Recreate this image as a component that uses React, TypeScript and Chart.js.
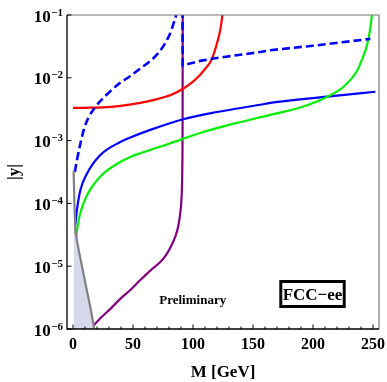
import React, { useEffect, useRef } from 'react';
import { Chart, registerables } from 'chart.js';

Chart.register(...registerables);

const FONT = '"Liberation Serif", "Times New Roman", serif';

// Axis ticks
const X_MAJOR = [0, 50, 100, 150, 200, 250];
const X_LABELS = ['0', '50', '100', '150', '200', '250'];
const X_MINOR = [10, 20, 30, 40, 60, 70, 80, 90, 110, 120, 130, 140, 160, 170, 180, 190, 210, 220, 230, 240];
const Y_TICKS = [1e-6, 1e-5, 1e-4, 1e-3, 1e-2, 1e-1];
const Y_EXP = ['−6', '−5', '−4', '−3', '−2', '−1'];

// Red curve
const RED_M = [0, 10, 25, 38, 56, 66, 82, 92, 100, 106, 110, 113, 115.8, 118, 120, 122, 123.5, 124.5, 125];
const RED_Y = [3.31e-3, 3.33e-3, 3.39e-3, 3.55e-3, 3.98e-3, 4.37e-3, 5.37e-3, 6.76e-3, 8.7e-3, 1.12e-2, 1.38e-2, 1.62e-2, 2.0e-2, 2.63e-2, 3.55e-2, 5.0e-2, 7.1e-2, 0.1, 0.12];

// Blue solid curve
const BLUE_M = [1.9, 3.3, 6.1, 11.7, 22.8, 39.4, 47.8, 64.4, 91.7, 120, 156, 164.4, 211.7, 252];
const BLUE_Y = [4.57e-5, 7.9e-5, 1.62e-4, 3.0e-4, 5.9e-4, 9.5e-4, 1.12e-3, 1.48e-3, 2.19e-3, 2.85e-3, 3.72e-3, 3.98e-3, 5.0e-3, 6.0e-3];

// Blue dashed curve, first branch
const BLUED1_M = [1.5, 3.33, 6.08, 9.42, 12.75, 18.6, 28.6, 38, 47.75, 56.1, 64.4, 71.1, 76.9, 81.1, 84.4, 86.1, 86.6];
const BLUED1_Y = [3.16e-4, 4.91e-4, 8.83e-4, 1.58e-3, 2.29e-3, 3.43e-3, 5.52e-3, 7.96e-3, 1.07e-2, 1.41e-2, 1.85e-2, 2.48e-2, 3.58e-2, 5.16e-2, 8.0e-2, 0.104, 0.12];

// Blue dashed curve, second branch
const BLUED2_M = [91.3, 91.4, 106, 120, 156, 164.4, 200, 247.8];
const BLUED2_Y = [0.12, 1.58e-2, 1.86e-2, 2.07e-2, 2.57e-2, 2.75e-2, 3.24e-2, 4.17e-2];

// Green curve
const GREEN_M = [2.2, 3.8, 6.1, 11.7, 22.8, 39.4, 47.8, 56, 80, 106, 134, 164.4, 190, 212, 225.5, 237, 240, 243, 245, 246.5, 247.8, 248.8, 249.4];
const GREEN_Y = [2.5e-5, 4.27e-5, 7.08e-5, 1.35e-4, 2.69e-4, 4.57e-4, 5.5e-4, 6.3e-4, 8.9e-4, 1.32e-3, 1.86e-3, 2.57e-3, 3.4e-3, 5.0e-3, 7.2e-3, 1.32e-2, 1.78e-2, 2.51e-2, 3.31e-2, 4.47e-2, 6.3e-2, 8.9e-2, 0.115];

// Purple curve
const PURPLE_M = [16.9, 22.75, 31.1, 39.4, 47.75, 56.1, 64.4, 72.75, 76.9, 81, 85.25, 87.75, 89.4, 90.25, 90.8, 91.17, 91.33, 91.42];
const PURPLE_Y = [1.12e-6, 1.48e-6, 2.09e-6, 3.02e-6, 4.17e-6, 6.03e-6, 8.51e-6, 1.17e-5, 1.45e-5, 1.95e-5, 2.95e-5, 4.37e-5, 7.08e-5, 1.05e-4, 1.82e-4, 4.9e-4, 2.14e-3, 0.12];

// Gray curve (with shaded region)
const GRAY_M = [0.5, 1.2, 2.0, 4.7, 7.5, 10.3, 14.4, 17.2, 17.9];
const GRAY_Y = [3.24e-4, 1e-4, 3.55e-5, 1.82e-5, 1e-5, 5.37e-6, 2.24e-6, 1.15e-6, 8.9e-7];

const pts = (m: number[], y: number[]) => m.map((v, i) => ({ x: v, y: y[i] }));

const framePlugin = {
  id: 'frame',
  afterDatasetsDraw(chart: any) {
    const ctx = chart.ctx as CanvasRenderingContext2D;
    const { left, right, top, bottom } = chart.chartArea;
    const xs = chart.scales.x;
    const ys = chart.scales.y;
    ctx.save();
    // frame
    ctx.lineWidth = 1.2;
    ctx.strokeStyle = '#777777';
    ctx.beginPath();
    ctx.moveTo(left, top);
    ctx.lineTo(right, top);
    ctx.lineTo(right, bottom);
    ctx.stroke();
    ctx.strokeStyle = '#000000';
    ctx.lineWidth = 1.3;
    ctx.beginPath();
    ctx.moveTo(left, top);
    ctx.lineTo(left, bottom);
    ctx.lineTo(right, bottom);
    ctx.stroke();
    // ticks
    ctx.lineWidth = 1;
    ctx.beginPath();
    X_MAJOR.forEach((v) => {
      const p = xs.getPixelForValue(v);
      ctx.moveTo(p, bottom);
      ctx.lineTo(p, bottom - 4.5);
    });
    X_MINOR.forEach((v) => {
      const p = xs.getPixelForValue(v);
      ctx.moveTo(p, bottom);
      ctx.lineTo(p, bottom - 2.5);
    });
    Y_TICKS.forEach((v) => {
      const p = ys.getPixelForValue(v);
      ctx.moveTo(left, p);
      ctx.lineTo(left + 4.5, p);
    });
    ctx.stroke();
    // x tick labels
    ctx.fillStyle = '#000000';
    ctx.font = `bold 16px ${FONT}`;
    ctx.textAlign = 'center';
    ctx.textBaseline = 'alphabetic';
    X_MAJOR.forEach((v, i) => {
      ctx.fillText(X_LABELS[i], xs.getPixelForValue(v), bottom + 20);
    });
    // y tick labels
    Y_TICKS.forEach((v, i) => {
      const p = ys.getPixelForValue(v);
      ctx.textAlign = 'right';
      ctx.font = `bold 11px ${FONT}`;
      const ew = ctx.measureText(Y_EXP[i]).width;
      const rx = left - 4;
      ctx.fillText(Y_EXP[i], rx, p + 0.5);
      ctx.font = `bold 17px ${FONT}`;
      ctx.fillText('10', rx - ew - 0.5, p + 6.5);
    });
    // axis titles
    ctx.font = `bold 17px ${FONT}`;
    ctx.textAlign = 'center';
    ctx.fillText('M [GeV]', (left + right) / 2, 377);
    ctx.save();
    ctx.translate(15, (top + bottom) / 2);
    ctx.rotate(-Math.PI / 2);
    ctx.textBaseline = 'middle';
    ctx.fillText('|y|', 0, 0);
    ctx.restore();
    // annotations
    ctx.font = `bold 13px ${FONT}`;
    ctx.textAlign = 'center';
    ctx.fillText('Preliminary', 192.7, 304);
    ctx.lineWidth = 3;
    ctx.strokeStyle = '#000000';
    ctx.strokeRect(280.8, 281.5, 63.4, 25);
    ctx.font = `bold 17px ${FONT}`;
    ctx.fillText('FCC−ee', 312.5, 300);
    ctx.restore();
  },
};

export default function App() {
  const ref = useRef<HTMLCanvasElement>(null);
  useEffect(() => {
    if (!ref.current) return;
    const line = (data: any, color: string, extra: any = {}) => ({
      data,
      borderColor: color,
      backgroundColor: color,
      borderWidth: 2.2,
      pointRadius: 0,
      fill: false,
      tension: 0.4,
      cubicInterpolationMode: 'monotone',
      ...extra,
    });
    const chart = new Chart(ref.current, {
      type: 'line',
      data: {
        datasets: [
          line(pts(GRAY_M, GRAY_Y), '#808080', { fill: 'start', backgroundColor: 'rgb(216,216,236)', tension: 0, cubicInterpolationMode: 'default' }),
          line(pts(BLUED1_M, BLUED1_Y), '#0000ff', { borderDash: [8, 4], borderWidth: 2.6 }),
          line(pts(BLUED2_M, BLUED2_Y), '#0000ff', { borderDash: [8, 4], borderWidth: 2.6, tension: 0, cubicInterpolationMode: 'default' }),
          line(pts(GREEN_M, GREEN_Y), '#00ee00'),
          line(pts(BLUE_M, BLUE_Y), '#0000ff'),
          line(pts(RED_M, RED_Y), '#ff0000'),
          line(pts(PURPLE_M, PURPLE_Y), '#800080'),
        ] as any,
      },
      options: {
        responsive: false,
        animation: false,
        devicePixelRatio: 1,
        layout: { padding: { top: 15, right: 8, left: 0, bottom: 0 } },
        plugins: { legend: { display: false }, tooltip: { enabled: false } },
        elements: { point: { radius: 0 } },
        scales: {
          x: {
            type: 'linear',
            min: -5,
            max: 255,
            grid: { display: false },
            border: { display: false },
            ticks: { display: false },
            afterFit: (s: any) => {
              s.height = 53;
            },
          },
          y: {
            type: 'logarithmic',
            min: 1e-6,
            max: 1e-1,
            grid: { display: false },
            border: { display: false },
            ticks: { display: false },
            afterFit: (s: any) => {
              s.width = 67;
            },
          },
        },
      } as any,
      plugins: [framePlugin],
    });
    return () => chart.destroy();
  }, []);
  return (
    <div style={{ position: 'absolute', left: 0, top: 0, width: 387, height: 382, background: '#fff' }}>
      <canvas ref={ref} width={387} height={382} />
    </div>
  );
}
